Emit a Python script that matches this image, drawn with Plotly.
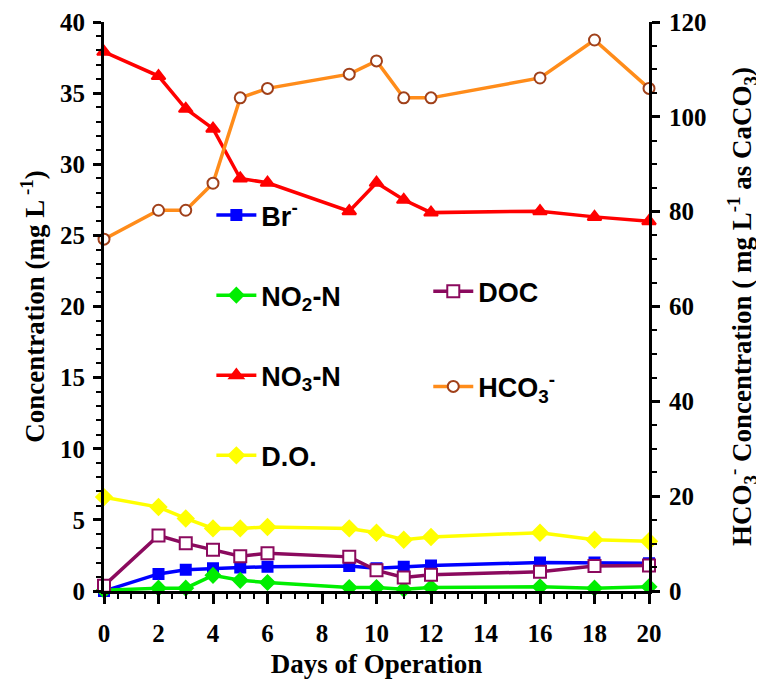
import plotly.graph_objects as go

days = [0, 2, 3, 4, 5, 6, 9, 10, 11, 12, 16, 18, 20]
br = [0.0, 1.2, 1.5, 1.6, 1.65, 1.7, 1.75, 1.6, 1.7, 1.8, 2.0, 2.0, 1.95]
no2 = [0.05, 0.2, 0.2, 1.1, 0.75, 0.6, 0.25, 0.25, 0.12, 0.25, 0.3, 0.2, 0.3]
no3 = [37.9, 36.2, 33.9, 32.5, 29.0, 28.7, 26.7, 28.7, 27.5, 26.6, 26.7, 26.3, 26.0]
do = [6.6, 5.9, 5.1, 4.4, 4.4, 4.5, 4.4, 4.1, 3.6, 3.8, 4.1, 3.6, 3.5]
doc = [0.37, 3.9, 3.35, 2.9, 2.45, 2.65, 2.4, 1.45, 0.95, 1.15, 1.35, 1.75, 1.8]
hco3 = [74.2, 80.3, 80.3, 86.0, 104.0, 106.0, 109.0, 111.8, 104.0, 104.0, 108.2, 116.2, 106.0]

names = {
    "br": "Br<sup>-</sup>",
    "no2": "NO<sub>2</sub>-N",
    "no3": "NO<sub>3</sub>-N",
    "do": "D.O.",
    "doc": "DOC",
    "hco3": "HCO<sub>3</sub><sup>-</sup>",
}

fig = go.Figure()

def add(y, name, color, symbol, size, legend, group, rank, yaxis="y", fill=None, mline=None):
    fig.add_trace(go.Scatter(
        x=days, y=y, name=name, mode="lines+markers", yaxis=yaxis,
        line=dict(color=color, width=3.5),
        marker=dict(symbol=symbol, size=size, color=fill or color,
                    line=dict(color=mline or color, width=2)),
        legend=legend, legendgroup=group, legendrank=rank, cliponaxis=False,
    ))

add(br, names["br"], "#0000FF", "square", 10, "legend", "a", 1)
add(no2, names["no2"], "#00EE00", "diamond", 11, "legend", "b", 2)
add(no3, names["no3"], "#FF0000", "triangle-up", 12, "legend", "c", 3)
add(do, names["do"], "#FFFF00", "diamond", 12, "legend", "d", 4)
add(doc, names["doc"], "#8B0A5E", "square", 12, "legend2", "g", 5, fill="white")
add(hco3, names["hco3"], "#FF8C1A", "circle", 11, "legend2", "h", 6, yaxis="y2", fill="white", mline="#A0401A")

tickfont = dict(family="Liberation Serif, Times New Roman", size=25, color="black", weight="bold")
titlefont = dict(family="Liberation Serif, Times New Roman", size=27, color="black", weight="bold")
legfont = dict(family="Liberation Sans, Arial", size=27, color="black", weight="bold")

axis_common = dict(
    tickwidth=3, tickcolor="black", ticks="outside",
    showline=True, linewidth=3, linecolor="black", showgrid=False, zeroline=False,
    tickfont=tickfont, automargin=False, tickmode="linear", tick0=0,
)

# page body has an 8px default margin, so the figure is offset by (8, 8)
fig.update_layout(
    width=756, height=671,
    margin=dict(l=96, r=115, t=14, b=88),
    paper_bgcolor="white", plot_bgcolor="white",
    showlegend=True,
    xaxis=dict(
        range=[0, 20], dtick=2, ticklen=10, ticklabelstandoff=8,
        minor=dict(dtick=0.5, ticklen=5, tickwidth=2, tickcolor="black", ticks="outside"),
        title=dict(text="Days of Operation", font=titlefont, standoff=10),
        **axis_common,
    ),
    yaxis=dict(
        range=[0, 40], dtick=5, ticklen=8, ticklabelstandoff=3,
        minor=dict(dtick=1, ticklen=5, tickwidth=2, tickcolor="black", ticks="outside"),
        title=dict(text="Concentration (mg L<sup> -1</sup>)", font=titlefont, standoff=8),
        **axis_common,
    ),
    yaxis2=dict(
        range=[0, 120], dtick=20, overlaying="y", side="right", ticklen=8, ticklabelstandoff=4,
        minor=dict(dtick=5, ticklen=5, tickwidth=2, tickcolor="black", ticks="outside"),
        title=dict(text="HCO<sub>3</sub><sup>-</sup> Concentration ( mg L<sup>-1</sup> as CaCO<sub>3</sub>)",
                   font=titlefont, standoff=27),
        **axis_common,
    ),
    legend=dict(
        x=0.197, y=0.703, xanchor="left", yanchor="top",
        bgcolor="rgba(0,0,0,0)", font=legfont, tracegroupgap=42,
        traceorder="grouped", itemwidth=40,
    ),
    legend2=dict(
        x=0.595, y=0.569, xanchor="left", yanchor="top",
        bgcolor="rgba(0,0,0,0)", font=legfont, tracegroupgap=57,
        traceorder="grouped", itemwidth=40,
    ),
)

fig.write_html("out.html")
